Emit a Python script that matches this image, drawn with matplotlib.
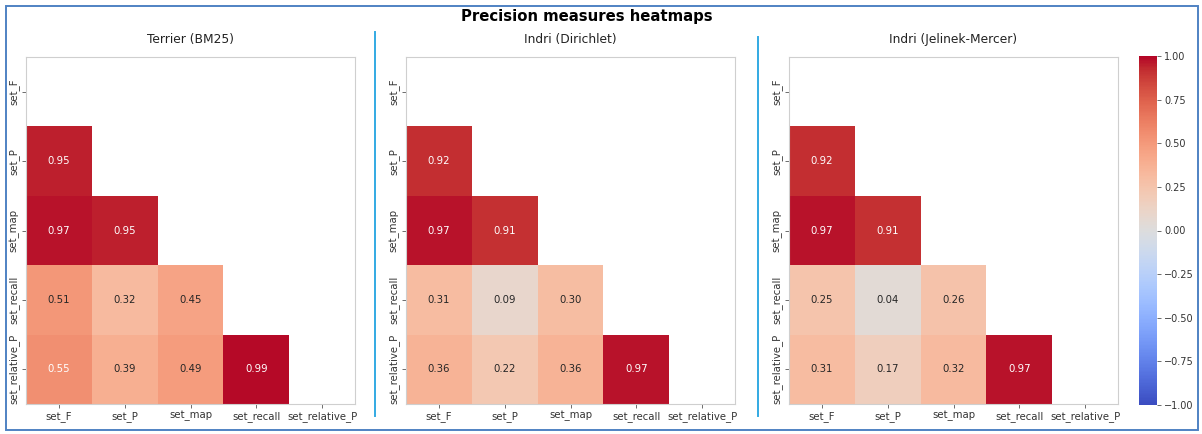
import numpy as np
import matplotlib
matplotlib.use("Agg")
import matplotlib.pyplot as plt
from matplotlib.patches import Rectangle
from matplotlib.lines import Line2D

# Correlation between precision measures (lower triangle, row i vs column j<i)
measures = ["set_F", "set_P", "set_map", "set_recall", "set_relative_P"]
titles = ["Terrier (BM25)", "Indri (Dirichlet)", "Indri (Jelinek-Mercer)"]

terrier_bm25 = [[0.95],
                [0.97, 0.95],
                [0.51, 0.32, 0.45],
                [0.55, 0.39, 0.49, 0.99]]
indri_dirichlet = [[0.92],
                   [0.97, 0.91],
                   [0.31, 0.09, 0.30],
                   [0.36, 0.22, 0.36, 0.97]]
indri_jelinek_mercer = [[0.92],
                        [0.97, 0.91],
                        [0.25, 0.04, 0.26],
                        [0.31, 0.17, 0.32, 0.97]]
colorbar_ticks = [-1.0, -0.75, -0.5, -0.25, 0.0, 0.25, 0.5, 0.75, 1.0]


def full_matrix(lower_rows):
    n = len(measures)
    m = np.full((n, n), np.nan)
    for i, row in enumerate(lower_rows, start=1):
        for j, v in enumerate(row):
            m[i, j] = v
    return np.ma.masked_invalid(m)


def rel_lum(rgba):
    rgb = np.array(rgba[:3])
    rgb = np.where(rgb <= .03928, rgb / 12.92, ((rgb + .055) / 1.055) ** 2.4)
    return rgb.dot([.2126, .7152, .0722])


W, H = 1202, 434
fig = plt.figure(figsize=(W / 100, H / 100), dpi=100)
cmap = plt.get_cmap("coolwarm")
norm = matplotlib.colors.Normalize(vmin=-1, vmax=1)


def fx(px):
    return px / W


def fy(py):
    return 1 - py / H


panels = [terrier_bm25, indri_dirichlet, indri_jelinek_mercer]
lefts = [26, 406, 789]
top, bottom, width = 57, 404, 329

mesh = None
for data, title, left in zip(panels, titles, lefts):
    ax = fig.add_axes([fx(left), fy(bottom), width / W, (bottom - top) / H])
    mat = full_matrix(data)
    n = len(measures)
    mesh = ax.pcolormesh(np.arange(n + 1), np.arange(n + 1), mat,
                         cmap=cmap, norm=norm)
    ax.set_xlim(0, n)
    ax.set_ylim(n, 0)
    for i in range(n):
        for j in range(n):
            if mat.mask[i, j]:
                continue
            v = mat[i, j]
            c = ".15" if rel_lum(cmap(norm(v))) > .408 else "w"
            ax.text(j + 0.5, i + 0.5, f"{v:.2f}", ha="center", va="center",
                    fontsize=7.3, color=c)
    ax.set_xticks(np.arange(n) + 0.5)
    ax.set_yticks(np.arange(n) + 0.5)
    ax.set_xticklabels(measures, fontsize=7.3, color="#333333")
    ax.set_yticklabels(measures, fontsize=7.3, color="#333333",
                       rotation=90, va="center")
    ax.tick_params(length=3, width=0.6, color="#555555", pad=2)
    for s in ax.spines.values():
        s.set_color("#cfcfcf")
        s.set_linewidth(0.8)
    ax.set_title(title, fontsize=8.8, color="#222222", pad=10)

cax = fig.add_axes([fx(1139), fy(405), 18 / W, (405 - 56) / H])
cb = fig.colorbar(mesh, cax=cax, ticks=colorbar_ticks)
cb.outline.set_visible(False)
cax.tick_params(labelsize=7, length=3, width=0.6, color="#555555",
                labelcolor="#333333", pad=2)

fig.text(fx(587), fy(17), "Precision measures heatmaps", ha="center",
         va="center", fontsize=10.7, fontweight="bold")

# divider lines between panels and outer frame
for x, y0 in [(375, 32), (758, 37)]:
    fig.add_artist(Line2D([fx(x), fx(x)], [fy(y0), fy(416)],
                          transform=fig.transFigure, color="#33aae3", lw=1.4))
fig.add_artist(Rectangle((fx(6), fy(430)), fx(1192), (430 - 6) / H,
                         transform=fig.transFigure, fill=False,
                         edgecolor="#4f82c3", lw=1.4))

fig.savefig("out.png", dpi=100)
